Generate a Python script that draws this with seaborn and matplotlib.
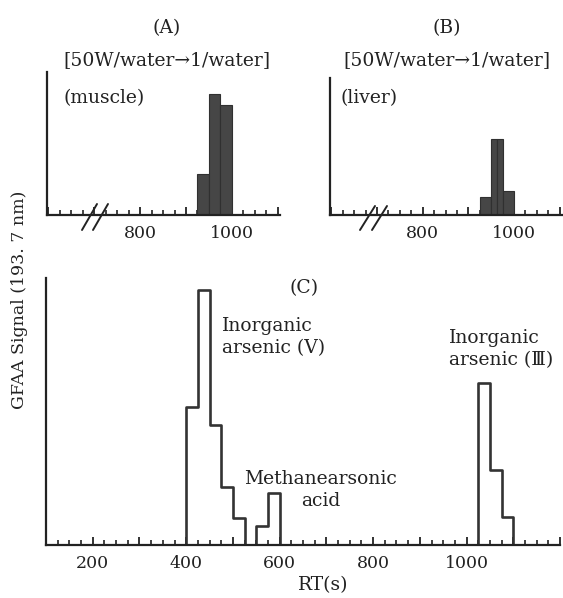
import numpy as np
import matplotlib
matplotlib.use('Agg')
import matplotlib.pyplot as plt
import seaborn as sns
from matplotlib.lines import Line2D
from matplotlib.ticker import MultipleLocator

# --- data (signal in arbitrary units) ---
# (A) muscle, 50W/water -> 1/water
muscle_bins = [925, 950, 975, 1000]
muscle_signal = [41, 121, 110]
# (B) liver (peak drawn as two halves, as in the original)
liver_bins = [925, 950, 962.5, 975, 1000]
liver_signal = [18, 76, 76, 24]
# (C) standards, 25 s fractions (start of each non-empty fraction)
std_start = [400, 425, 450, 475, 500, 550, 575, 1025, 1050, 1075]
std_signal = [138, 255, 120, 58, 27, 19, 52, 162, 75, 28]
std_bins = list(range(375, 1126, 25))

top_ticks = [600, 700, 800, 900, 1000, 1100]
top_labels = [800, 1000]
c_ticks = list(range(100, 1201, 100))
c_labels = [200, 400, 600, 800, 1000]

W, H = 563, 598
INK = '#222222'
FS = 13.5

sns.set_style('white')
plt.rcParams['font.family'] = ['DejaVu Serif', 'DejaVu Sans', 'Noto Sans CJK JP']
plt.rcParams['axes.edgecolor'] = INK
plt.rcParams['text.color'] = INK
plt.rcParams['xtick.color'] = INK


def box(left, top, right, bottom):
    return [left / W, 1 - bottom / H, (right - left) / W, (bottom - top) / H]


def fx(px):
    return px / W


def fy(py):
    return 1 - py / H


def style_axis(ax, ticks, labels):
    for s in ['top', 'right']:
        ax.spines[s].set_visible(False)
    for s in ['left', 'bottom']:
        ax.spines[s].set_linewidth(1.6)
    ax.set_xticks(ticks)
    ax.set_xticklabels([str(t) if t in labels else '' for t in ticks])
    ax.xaxis.set_minor_locator(MultipleLocator(25))
    ax.tick_params(axis='x', which='major', direction='in', length=6, width=1.3,
                   labelsize=12.5, pad=7, bottom=True)
    ax.tick_params(axis='x', which='minor', direction='in', length=3.5, width=1.2,
                   bottom=True)
    ax.set_yticks([])
    ax.set_xlabel('')
    ax.set_ylabel('')


fig = plt.figure(figsize=(W / 100, H / 100), dpi=100)

# (A)
axA = fig.add_axes(box(47, 72, 280, 215))
sns.histplot(x=np.array(muscle_bins[:-1]) + 12.5, weights=muscle_signal, bins=muscle_bins,
             element='bars', fill=True, color='#464646', edgecolor='#303030',
             linewidth=0.8, alpha=1, ax=axA)
axA.set_xlim(597, 1105)
axA.set_ylim(0, 143)
style_axis(axA, top_ticks, top_labels)
axA.text(633, 117, '(muscle)', fontsize=FS, va='center', ha='left')

# (B)
axB = fig.add_axes(box(330, 78, 562, 215))
liver_x = [(a + b) / 2 for a, b in zip(liver_bins[:-1], liver_bins[1:])]
sns.histplot(x=liver_x, weights=liver_signal, bins=liver_bins,
             element='bars', fill=True, color='#464646', edgecolor='#303030',
             linewidth=0.8, alpha=1, ax=axB)
axB.set_xlim(597, 1105)
axB.set_ylim(0, 137)
style_axis(axB, top_ticks, top_labels)
axB.text(620, 117, '(liver)', fontsize=FS, va='center', ha='left')

for lab, cx in [('(A)', 167), ('(B)', 447)]:
    fig.text(fx(cx), fy(28), lab, fontsize=FS, ha='center', va='center')
    fig.text(fx(cx), fy(60), '[50W/water→1/water]', fontsize=FS, ha='center', va='center')

# axis break marks
for (x0, y0, x1, y1) in [(82, 230, 97, 204), (93, 230, 108, 204),
                         (360, 230, 375, 206), (372, 230, 387, 206)]:
    fig.add_artist(Line2D([fx(x0), fx(x1)], [fy(y0), fy(y1)], color=INK, lw=1.4,
                          transform=fig.transFigure))

# (C)
axC = fig.add_axes(box(46, 278, 560, 545))
sns.histplot(x=np.array(std_start) + 12.5, weights=std_signal, bins=std_bins,
             element='step', fill=False, color='#333333', linewidth=1.9, ax=axC)
axC.set_xlim(100, 1200)
axC.set_ylim(0, 267)
style_axis(axC, c_ticks, c_labels)
axC.text(652, 257, '(C)', fontsize=FS, ha='center', va='center')
axC.text(477, 208, 'Inorganic\narsenic (Ⅴ)', fontsize=FS, ha='left', va='center',
         linespacing=1.3)
axC.text(688, 55, 'Methanearsonic\nacid', fontsize=FS, ha='center', va='center',
         multialignment='center', linespacing=1.3)
axC.text(963, 196, 'Inorganic\narsenic (Ⅲ)', fontsize=FS, ha='left', va='center',
         linespacing=1.3)

fig.text(fx(20), fy(300), 'GFAA Signal (193. 7 nm)', fontsize=12.5, rotation=90,
         ha='center', va='center')
fig.text(fx(323), fy(585), 'RT(s)', fontsize=FS, ha='center', va='center')

fig.savefig('out.png', dpi=100)
